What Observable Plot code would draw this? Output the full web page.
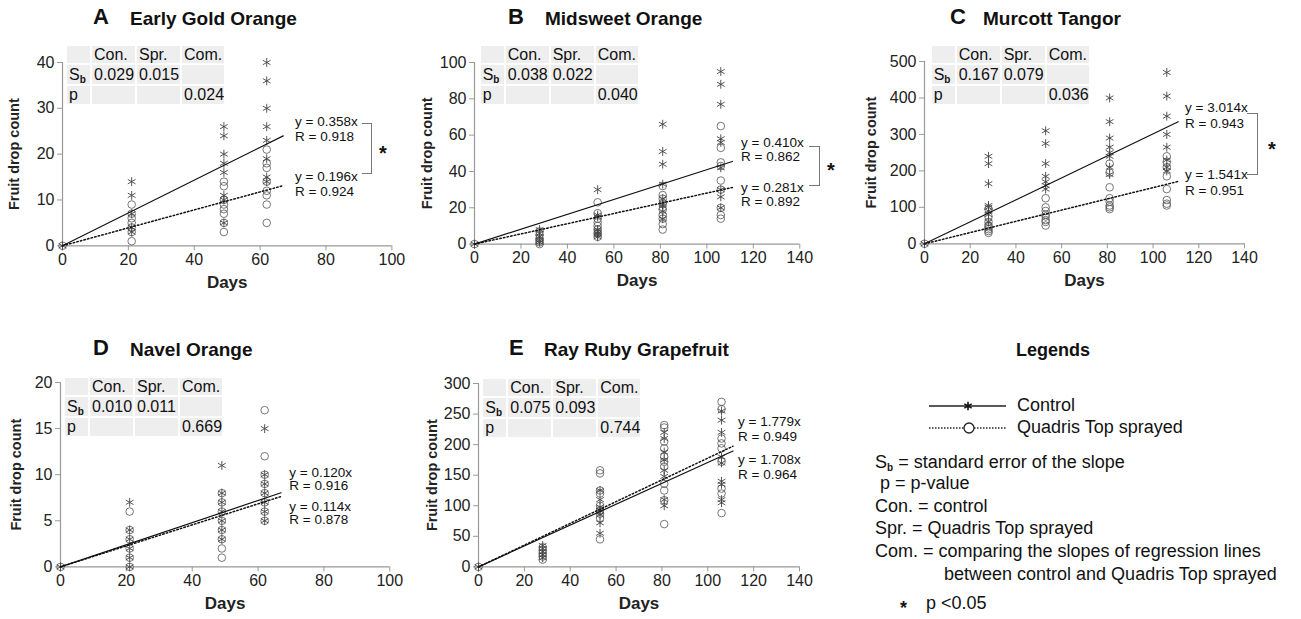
<!DOCTYPE html>
<html><head><meta charset="utf-8">
<script src="https://cdn.jsdelivr.net/npm/d3@7"></script>
<script src="https://cdn.jsdelivr.net/npm/@observablehq/plot@0.6"></script>
<style>
html,body{margin:0;padding:0;background:#fff;}
#fig{position:relative;width:1301px;height:619px;overflow:hidden;font-family:"Liberation Sans",Arial,Helvetica,sans-serif;color:#111;}
.abs{position:absolute;white-space:nowrap;}
.cell{position:absolute;background:#eeeeee;font-size:16px;padding-left:2px;box-sizing:border-box;color:#111;}
sub.b{font-size:10px;font-weight:bold;vertical-align:-3px;line-height:0;}
</style></head>
<body><div id="fig"></div>
<script>
// ---------------- data ----------------
const panelLetters = ["A", "B", "C", "D", "E"];
const panelNames = ["Early Gold Orange", "Midsweet Orange", "Murcott Tangor", "Navel Orange", "Ray Ruby Grapefruit"];
const xMax = [100, 140, 140, 100, 140];
const yMax = [40, 100, 500, 20, 300];
const yStep = [10, 20, 100, 5, 50];
const fitEnd = [67, 111, 111, 67, 111];

const daysShort = [0, 21, 49, 62];
const daysLong = [0, 28, 53, 81, 106];

const controlA = [[0], [14, 11, 7, 4, 3], [26, 24, 20, 18, 16, 11, 10, 5], [40, 36, 30, 26, 23, 19, 15, 14]];
const sprayA = [[0], [9, 7, 6, 5, 4, 3, 1], [14, 13, 10, 9, 8, 7, 5, 3], [21, 18, 17, 14, 12, 11, 9, 5]];

const controlB = [[0], [8, 6, 4, 2, 1], [30, 16, 15, 8, 7, 6, 5, 4], [66, 51, 44, 33, 25, 22, 21, 18, 14], [95, 88, 77, 58, 56, 42, 30, 26, 20]];
const sprayB = [[0], [7, 5, 3, 2, 1, 0], [23, 17, 14, 12, 10, 8, 6, 4], [32, 27, 25, 22, 19, 16, 14, 11, 8], [65, 53, 45, 43, 35, 30, 20, 16, 14]];

const controlC = [[0], [240, 220, 165, 105, 100, 90, 80, 60], [310, 275, 220, 185, 170, 160, 150], [400, 335, 290, 265, 250, 240, 210, 190], [470, 405, 350, 300, 265, 230, 210, 200]];
const sprayC = [[0], [95, 75, 60, 50, 45, 40, 35, 30], [125, 100, 90, 80, 75, 65, 60, 50], [220, 195, 155, 125, 115, 105, 100, 95], [240, 225, 210, 185, 150, 120, 110, 105]];

const controlD = [[0], [7, 4, 3, 2, 1, 0], [11, 8, 7, 6, 5, 4, 3], [15, 10, 9, 8, 7, 6, 5]];
const sprayD = [[0], [6, 4, 3, 2, 1, 0], [8, 7, 6, 5, 4, 3, 2, 1], [17, 12, 10, 9, 8, 7, 6, 5]];

const controlE = [[0], [35, 30, 25, 20, 15], [125, 110, 98, 92, 85, 72, 55], [220, 210, 188, 175, 158, 148, 110, 100], [255, 240, 220, 180, 170, 140, 135, 110, 105]];
const sprayE = [[0], [32, 27, 22, 17, 12], [158, 153, 125, 120, 100, 93, 87, 80, 45], [232, 228, 205, 194, 180, 172, 164, 136, 125, 109, 70], [270, 258, 210, 202, 194, 172, 128, 120, 88]];

const slopeControl = [0.358, 0.410, 3.014, 0.120, 1.708];
const rControl = [0.918, 0.862, 0.943, 0.916, 0.964];
const slopeSpray = [0.196, 0.281, 1.541, 0.114, 1.779];
const rSpray = [0.924, 0.892, 0.951, 0.878, 0.949];
const significant = [true, true, true, false, false];

const tableHead = ["", "Con.", "Spr.", "Com."];
const sbControl = ["0.029", "0.038", "0.167", "0.010", "0.075"];
const sbSpray = ["0.015", "0.022", "0.079", "0.011", "0.093"];
const pCompare = ["0.024", "0.040", "0.036", "0.669", "0.744"];

const seriesNames = ["Control", "Quadris Top sprayed"];
const legendTitle = "Legends";
const legendNotes = [
  "S<sub class='b'>b</sub> = standard error of the slope",
  " p = p-value",
  "Con. = control",
  "Spr. = Quadris Top sprayed",
  "Com. = comparing the slopes of regression lines",
  "between control and Quadris Top sprayed"
];
const sigNote = "p <0.05";
const xLabel = "Days";
const yLabel = "Fruit drop count";

const panelDays = [daysShort, daysLong, daysLong, daysShort, daysLong];
const panelControl = [controlA, controlB, controlC, controlD, controlE];
const panelSpray = [sprayA, sprayB, sprayC, sprayD, sprayE];

// ---------------- layout (pixels) ----------------
const layout = [
  {left: 62.3, right: 391.7, top: 61.7, bottom: 245, titleY: 17, letterX: 93, nameX: 130, tx: 67, ty: 45.5, ylab: -48,
   eqX: 295, eqY: [121.7, 136.7, 176.7, 191.7], br: {x0: 361.7, x1: 370.7, y0: 123.3, y1: 172.3, sx: 379, sy: 149}},
  {left: 474, right: 799.3, top: 61.7, bottom: 243.3, titleY: 17, letterX: 508, nameX: 545, tx: 480.7, ty: 45.5, ylab: -47,
   eqX: 741, eqY: [143.3, 156.7, 188.3, 201.7], br: {x0: 809.3, x1: 819.3, y0: 145.7, y1: 184, sx: 827, sy: 166}},
  {left: 924.3, right: 1244.3, top: 61, bottom: 243.3, titleY: 17, letterX: 950, nameX: 983, tx: 931.7, ty: 45.5, ylab: -53,
   eqX: 1185, eqY: [108.3, 124, 175, 190.7], br: {x0: 1247.3, x1: 1256.7, y0: 113.3, y1: 173.3, sx: 1268, sy: 145}},
  {left: 60, right: 389.3, top: 382.3, bottom: 566.7, titleY: 348, letterX: 93, nameX: 130, tx: 65, ty: 377.5, ylab: -44,
   eqX: 289.3, eqY: [472.5, 486, 506.5, 519.5], br: null},
  {left: 478.3, right: 799.3, top: 383.3, bottom: 566.7, titleY: 348, letterX: 509, nameX: 544, tx: 483.3, ty: 378.5, ylab: -46,
   eqX: 738, eqY: [421.7, 436.7, 460, 475], br: null}
];
const colW = [25, 45, 45, 44];
const rowH = [19, 21, 20];

const fig = document.getElementById("fig");
const FONT = "'Liberation Sans', Arial, Helvetica, sans-serif";

function addText(html, x, cy, size, extra = {}, lhOverride) {
  const d = document.createElement("div");
  d.className = "abs";
  d.innerHTML = html;
  const lh = lhOverride || Math.round(size * 1.2);
  Object.assign(d.style, {left: x + "px", top: (cy - lh / 2) + "px", fontSize: size + "px", lineHeight: lh + "px"}, extra);
  fig.appendChild(d);
  return d;
}

panelLetters.forEach((letter, i) => {
  const L = layout[i];
  const mL = 70, mR = 30, mT = 10, mB = 55;
  const fw = L.right - L.left, fh = L.bottom - L.top;
  const days = panelDays[i];
  const pts = [];
  days.forEach((d, k) => {
    panelControl[i][k].forEach(v => pts.push({day: d, count: v, group: seriesNames[0]}));
    panelSpray[i][k].forEach(v => pts.push({day: d, count: v, group: seriesNames[1]}));
  });
  const fitC = [0, fitEnd[i]].map(x => ({day: x, count: slopeControl[i] * x}));
  const fitS = [0, fitEnd[i]].map(x => ({day: x, count: slopeSpray[i] * x}));

  const svg = Plot.plot({
    width: fw + mL + mR,
    height: fh + mT + mB,
    marginLeft: mL, marginRight: mR, marginTop: mT, marginBottom: mB,
    style: {fontFamily: FONT, fontSize: "16px", color: "#222", background: "none", overflow: "visible"},
    x: {domain: [0, xMax[i]], label: null},
    y: {domain: [0, yMax[i]], label: null},
    marks: [
      Plot.ruleY([0], {stroke: "#999", strokeWidth: 1.2}),
      Plot.ruleX([0], {stroke: "#999", strokeWidth: 1.2}),
      Plot.axisX({ticks: d3.range(0, xMax[i] + 1, 20), tickSize: 5, tickPadding: 3, stroke: "#999", fill: "#222", label: null}),
      Plot.axisY({ticks: d3.range(0, yMax[i] + 1, yStep[i]), tickSize: 5, tickPadding: 3, stroke: "#999", fill: "#222", label: null}),
      Plot.dot(pts.filter(d => d.group === seriesNames[1]), {x: "day", y: "count", symbol: "circle", r: 3.8, stroke: "#555", strokeWidth: 0.8, fill: "none"}),
      Plot.dot(pts.filter(d => d.group === seriesNames[0]), {x: "day", y: "count", symbol: "asterisk", r: 4.2, stroke: "#444", strokeWidth: 0.9}),
      Plot.line(fitC, {x: "day", y: "count", stroke: "#111", strokeWidth: 1.2}),
      Plot.line(fitS, {x: "day", y: "count", stroke: "#111", strokeWidth: 1.5, strokeDasharray: "1.5,2.2"}),
      Plot.text([xLabel], {frameAnchor: "bottom", dy: 42, fontWeight: "bold", fontSize: 17, fill: "#222"}),
      Plot.text([yLabel], {frameAnchor: "left", dx: L.ylab, rotate: -90, textAnchor: "middle", fontWeight: "bold", fontSize: 14.5, fill: "#222"})
    ]
  });
  svg.style.position = "absolute";
  svg.style.left = (L.left - mL) + "px";
  svg.style.top = (L.top - mT) + "px";
  fig.appendChild(svg);

  // title
  addText(letter, L.letterX, L.titleY, 22, {fontWeight: "bold"});
  addText(panelNames[i], L.nameX, L.titleY + 1, 19, {fontWeight: "bold"});

  // stats table
  const rows = [tableHead, ["S<sub class='b'>b</sub>", sbControl[i], sbSpray[i], ""], ["p", "", "", pCompare[i]]];
  let yy = L.ty;
  rows.forEach((row, r) => {
    let xx = L.tx;
    row.forEach((txt, c) => {
      const d = document.createElement("div");
      d.className = "cell";
      d.innerHTML = txt;
      Object.assign(d.style, {left: xx + "px", top: yy + "px", width: (colW[c] - 2) + "px", height: (rowH[r] - 2) + "px", lineHeight: (rowH[r] - 2) + "px"});
      fig.appendChild(d);
      xx += colW[c];
    });
    yy += rowH[r];
  });

  // regression equations, upper line first
  const eqs = [[slopeControl[i], rControl[i]], [slopeSpray[i], rSpray[i]]].sort((a, b) => b[0] - a[0]);
  const eqLines = [`y = ${eqs[0][0].toFixed(3)}x`, `R = ${eqs[0][1].toFixed(3)}`, `y = ${eqs[1][0].toFixed(3)}x`, `R = ${eqs[1][1].toFixed(3)}`];
  eqLines.forEach((t, k) => addText(t, L.eqX, L.eqY[k], 13.5, {color: "#111"}, 12));

  if (significant[i] && L.br) {
    const b = document.createElement("div");
    b.className = "abs";
    Object.assign(b.style, {left: L.br.x0 + "px", top: L.br.y0 + "px", width: (L.br.x1 - L.br.x0) + "px", height: (L.br.y1 - L.br.y0) + "px",
      borderTop: "1px solid #777", borderRight: "1px solid #777", borderBottom: "1px solid #777"});
    fig.appendChild(b);
    addText("*", L.br.sx, L.br.sy + 4, 20, {fontWeight: "bold"}, 16);
  }
});

// ---------------- legend panel ----------------
addText(legendTitle, 1053, 350, 18, {fontWeight: "bold", transform: "translateX(-50%)"});
const sw = d3.create("svg").attr("width", 90).attr("height", 40)
  .style("position", "absolute").style("left", "925px").style("top", "395px");
sw.append("line").attr("x1", 4).attr("x2", 81).attr("y1", 11).attr("y2", 11).attr("stroke", "#222").attr("stroke-width", 1.3);
sw.append("path").attr("d", d3.symbol(d3.symbolAsterisk, 50)()).attr("transform", "translate(43,11)").attr("stroke", "#111").attr("stroke-width", 1.6).attr("fill", "none");
sw.append("line").attr("x1", 4).attr("x2", 81).attr("y1", 33).attr("y2", 33).attr("stroke", "#222").attr("stroke-width", 1.3).attr("stroke-dasharray", "1.5,1.5");
sw.append("circle").attr("cx", 44).attr("cy", 33).attr("r", 5).attr("stroke", "#222").attr("stroke-width", 1.3).attr("fill", "#fff");
fig.appendChild(sw.node());
addText(seriesNames[0], 1017, 405, 18);
addText(seriesNames[1], 1017, 427.3, 18);

const noteX = [875, 875, 875, 875, 875, 944];
const noteY = [461.7, 483.3, 505.7, 528.3, 551, 574];
legendNotes.forEach((t, k) => addText(t, noteX[k], noteY[k], 18, {whiteSpace: "pre"}, 20));
addText("*", 900, 608, 18, {fontWeight: "bold"}, 14);
addText(sigNote, 926, 603.3, 18, {}, 20);
</script>
</body></html>
